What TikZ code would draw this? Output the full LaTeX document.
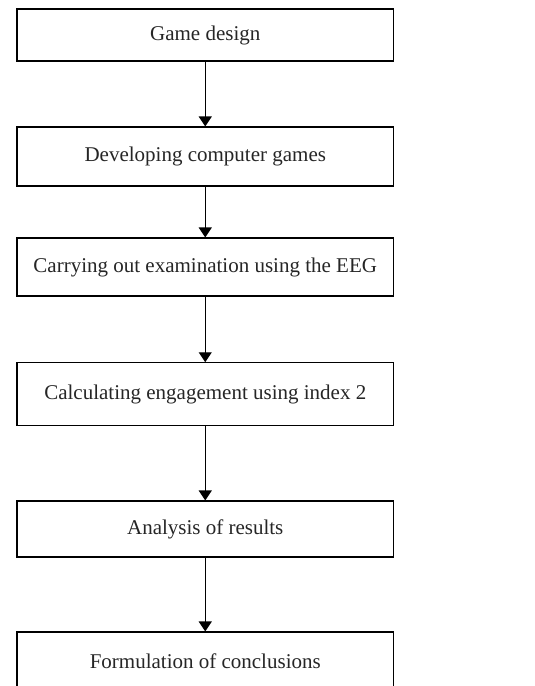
\documentclass[tikz,border=0pt]{standalone}
\usepackage{fontspec}
\setmainfont{Liberation Serif}
\usetikzlibrary{arrows.meta}
\begin{document}
\begin{tikzpicture}[x=1pt,y=-1pt,
  stepbox/.style={draw=black,line width=1.1pt,minimum width=376.5pt,inner sep=0pt,
    font=\fontsize{21}{25}\selectfont,text=black!85},
  flow/.style={line width=1.1pt,-{Triangle[width=13pt,length=10pt]}}]
\useasboundingbox (0,0) rectangle (535,686);
\clip (0,0) rectangle (535,686);
\fill[white] (0,0) rectangle (535,686);
\node[stepbox,minimum height=52pt] (b1) at (205.25,35) {Game design};
\node[stepbox,minimum height=59pt] (b2) at (205.25,156.5) {Developing computer games};
\node[stepbox,minimum height=58pt] (b3) at (205.25,267) {Carrying out examination using the EEG};
\node[stepbox,minimum height=63pt] (b4) at (205.25,394.3) {Calculating engagement using index 2};
\node[stepbox,minimum height=56pt] (b5) at (205.25,529) {Analysis of results};
\node[stepbox,minimum height=58pt] (b6) at (205.25,661) {Formulation of conclusions};
\draw[flow] (b1) -- (b2);
\draw[flow] (b2) -- (b3);
\draw[flow] (b3) -- (b4);
\draw[flow] (b4) -- (b5);
\draw[flow] (b5) -- (b6);
\end{tikzpicture}
\end{document}
